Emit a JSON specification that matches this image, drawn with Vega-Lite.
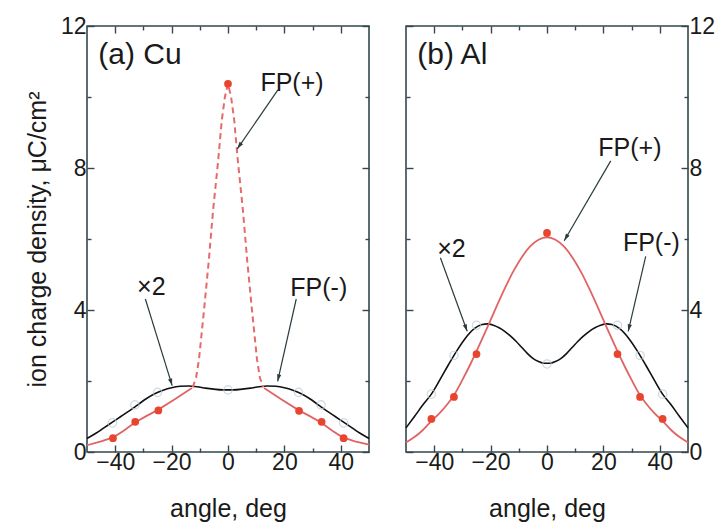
{
  "$schema": "https://vega.github.io/schema/vega-lite/v6.json",
  "background": "white",
  "padding": {"left": 24, "top": 14, "right": 0, "bottom": 0},
  "spacing": 27,
  "config": {
    "view": {"stroke": "#33474d", "strokeWidth": 1.6},
    "axis": {"grid": false, "domain": false, "tickColor": "#33474d", "tickWidth": 1.4, "labelFont": "Liberation Sans", "labelFontSize": 23, "labelColor": "#1a1a1a", "titleFont": "Liberation Sans", "titleFontSize": 25, "titleFontWeight": "normal", "titleColor": "#1a1a1a"},
    "text": {"font": "Liberation Sans", "color": "#1a1a1a"}
  },
  "datasets": {
    "cu_black": [
      {"x": -50, "y": 0.38}, {"x": -47, "y": 0.52}, {"x": -44, "y": 0.68}, {"x": -41, "y": 0.84}, {"x": -38, "y": 1.0}, {"x": -35, "y": 1.16}, {"x": -32, "y": 1.33}, {"x": -29, "y": 1.5}, {"x": -26, "y": 1.64}, {"x": -23, "y": 1.74}, {"x": -20, "y": 1.81}, {"x": -17, "y": 1.85}, {"x": -14, "y": 1.86}, {"x": -11, "y": 1.84}, {"x": -8, "y": 1.8}, {"x": -5, "y": 1.77}, {"x": -2, "y": 1.75}, {"x": 0, "y": 1.75},
      {"x": 2, "y": 1.75}, {"x": 5, "y": 1.77}, {"x": 8, "y": 1.8}, {"x": 11, "y": 1.84}, {"x": 14, "y": 1.86}, {"x": 17, "y": 1.85}, {"x": 20, "y": 1.81}, {"x": 23, "y": 1.74}, {"x": 26, "y": 1.64}, {"x": 29, "y": 1.5}, {"x": 32, "y": 1.33}, {"x": 35, "y": 1.16}, {"x": 38, "y": 1.0}, {"x": 41, "y": 0.84}, {"x": 44, "y": 0.68}, {"x": 47, "y": 0.52}, {"x": 50, "y": 0.38}
    ],
    "cu_red": [
      {"seg": "L", "x": -50, "y": 0.19}, {"seg": "L", "x": -45, "y": 0.3}, {"seg": "L", "x": -40.5, "y": 0.42}, {"seg": "L", "x": -37, "y": 0.6}, {"seg": "L", "x": -33, "y": 0.83}, {"seg": "L", "x": -29, "y": 1.01}, {"seg": "L", "x": -25, "y": 1.18}, {"seg": "L", "x": -19, "y": 1.48}, {"seg": "L", "x": -12.8, "y": 1.8},
      {"seg": "R", "x": 12.8, "y": 1.8}, {"seg": "R", "x": 19, "y": 1.48}, {"seg": "R", "x": 25, "y": 1.18}, {"seg": "R", "x": 29, "y": 1.01}, {"seg": "R", "x": 33, "y": 0.83}, {"seg": "R", "x": 37, "y": 0.6}, {"seg": "R", "x": 40.5, "y": 0.42}, {"seg": "R", "x": 45, "y": 0.3}, {"seg": "R", "x": 50, "y": 0.21}
    ],
    "cu_dash": [
      {"x": -12.5, "y": 1.82}, {"x": -11.3, "y": 2.1}, {"x": -10.3, "y": 2.6}, {"x": -8.5, "y": 4.0}, {"x": -6.8, "y": 5.4}, {"x": -5.3, "y": 6.8}, {"x": -3.5, "y": 8.2}, {"x": -2.2, "y": 9.35}, {"x": -1.1, "y": 10.0}, {"x": 0, "y": 10.37},
      {"x": 1.1, "y": 10.0}, {"x": 2.2, "y": 9.35}, {"x": 3.5, "y": 8.2}, {"x": 5.3, "y": 6.8}, {"x": 6.8, "y": 5.4}, {"x": 8.5, "y": 4.0}, {"x": 10.3, "y": 2.6}, {"x": 11.3, "y": 2.1}, {"x": 12.5, "y": 1.82}
    ],
    "cu_circles": [
      {"x": -41, "y": 0.82}, {"x": -33, "y": 1.33}, {"x": -25, "y": 1.68}, {"x": 0, "y": 1.75}, {"x": 25, "y": 1.68}, {"x": 33, "y": 1.33}, {"x": 41, "y": 0.82}
    ],
    "cu_dots": [
      {"x": -40.8, "y": 0.39}, {"x": -32.9, "y": 0.85}, {"x": -24.7, "y": 1.17}, {"x": 0, "y": 10.37}, {"x": 25.2, "y": 1.16}, {"x": 33.2, "y": 0.85}, {"x": 41, "y": 0.39}
    ],
    "cu_arrows": [
      {"xs": 17.7, "ys": 10.2, "xe": 3.3, "ye": 8.54},
      {"xs": -29.3, "ys": 4.31, "xe": -19.8, "ye": 1.87},
      {"xs": 24.2, "ys": 4.31, "xe": 17.6, "ye": 1.99}
    ],
    "cu_labels": [
      {"x": 22.7, "y": 10.4, "t": "FP(+)"}, {"x": -27.2, "y": 4.65, "t": "×2"}, {"x": 32.2, "y": 4.62, "t": "FP(-)"}
    ],
    "cu_panel": [{"x": -46, "y": 11.17, "t": "(a) Cu"}],
    "al_black": [
      {"x": -50, "y": 0.68}, {"x": -47, "y": 1.0}, {"x": -44, "y": 1.33}, {"x": -41, "y": 1.63}, {"x": -38, "y": 2.03}, {"x": -35, "y": 2.45}, {"x": -32, "y": 2.85}, {"x": -29, "y": 3.2}, {"x": -26, "y": 3.46}, {"x": -23, "y": 3.59}, {"x": -21, "y": 3.61}, {"x": -19, "y": 3.57}, {"x": -17, "y": 3.5}, {"x": -15, "y": 3.4}, {"x": -13, "y": 3.27}, {"x": -11, "y": 3.12}, {"x": -9, "y": 2.95}, {"x": -7, "y": 2.78}, {"x": -5, "y": 2.64}, {"x": -3, "y": 2.55}, {"x": -1, "y": 2.5}, {"x": 0, "y": 2.5},
      {"x": 1, "y": 2.5}, {"x": 3, "y": 2.55}, {"x": 5, "y": 2.64}, {"x": 7, "y": 2.78}, {"x": 9, "y": 2.95}, {"x": 11, "y": 3.12}, {"x": 13, "y": 3.27}, {"x": 15, "y": 3.4}, {"x": 17, "y": 3.5}, {"x": 19, "y": 3.57}, {"x": 21, "y": 3.61}, {"x": 23, "y": 3.59}, {"x": 26, "y": 3.46}, {"x": 29, "y": 3.2}, {"x": 32, "y": 2.85}, {"x": 35, "y": 2.45}, {"x": 38, "y": 2.03}, {"x": 41, "y": 1.63}, {"x": 44, "y": 1.33}, {"x": 47, "y": 1.0}, {"x": 50, "y": 0.68}
    ],
    "al_red": [
      {"x": -50, "y": 0.27}, {"x": -47, "y": 0.42}, {"x": -44, "y": 0.62}, {"x": -41, "y": 0.87}, {"x": -38, "y": 1.1}, {"x": -35, "y": 1.38}, {"x": -33, "y": 1.6}, {"x": -30, "y": 2.03}, {"x": -27, "y": 2.5}, {"x": -24, "y": 3.01}, {"x": -21, "y": 3.54}, {"x": -18, "y": 4.08}, {"x": -15, "y": 4.6}, {"x": -12, "y": 5.08}, {"x": -9, "y": 5.48}, {"x": -6, "y": 5.79}, {"x": -3, "y": 5.98}, {"x": 0, "y": 6.05},
      {"x": 3, "y": 5.98}, {"x": 6, "y": 5.79}, {"x": 9, "y": 5.48}, {"x": 12, "y": 5.08}, {"x": 15, "y": 4.6}, {"x": 18, "y": 4.08}, {"x": 21, "y": 3.54}, {"x": 24, "y": 3.01}, {"x": 27, "y": 2.5}, {"x": 30, "y": 2.03}, {"x": 33, "y": 1.6}, {"x": 35, "y": 1.38}, {"x": 38, "y": 1.1}, {"x": 41, "y": 0.87}, {"x": 44, "y": 0.62}, {"x": 47, "y": 0.42}, {"x": 50, "y": 0.27}
    ],
    "al_circles": [
      {"x": -41, "y": 1.63}, {"x": -33, "y": 2.72}, {"x": -25, "y": 3.57}, {"x": 0, "y": 2.48}, {"x": 25, "y": 3.57}, {"x": 33, "y": 2.72}, {"x": 41, "y": 1.63}
    ],
    "al_dots": [
      {"x": -41, "y": 0.93}, {"x": -33, "y": 1.55}, {"x": -25, "y": 2.76}, {"x": 0, "y": 6.17}, {"x": 25, "y": 2.76}, {"x": 33, "y": 1.55}, {"x": 41, "y": 0.93}
    ],
    "al_arrows": [
      {"xs": 22.6, "ys": 8.2, "xe": 6.1, "ye": 5.95},
      {"xs": -37.8, "ys": 5.47, "xe": -28.3, "ye": 3.4},
      {"xs": 35, "ys": 5.51, "xe": 28.8, "ye": 3.4}
    ],
    "al_labels": [
      {"x": 29.4, "y": 8.56, "t": "FP(+)"}, {"x": -33.9, "y": 5.72, "t": "×2"}, {"x": 37, "y": 5.89, "t": "FP(-)"}
    ],
    "al_panel": [{"x": -46, "y": 11.17, "t": "(b) Al"}]
  },
  "hconcat": [
    {
      "width": 282,
      "height": 426,
      "resolve": {"axis": {"x": "independent", "y": "independent"}},
      "layer": [
        {
          "data": {"name": "cu_black"},
          "mark": {"type": "line", "color": "#111111", "strokeWidth": 1.6, "interpolate": "monotone"},
          "encoding": {
            "x": {"field": "x", "type": "quantitative", "scale": {"domain": [-50, 50], "nice": false, "zero": false}, "axis": {"orient": "bottom", "values": [-40, -20, 0, 20, 40], "tickSize": -7, "labelPadding": 6, "title": "angle, deg", "titlePadding": 22}},
            "y": {"field": "y", "type": "quantitative", "scale": {"domain": [0, 12], "nice": false}, "axis": {"orient": "left", "values": [0, 4, 8, 12], "tickSize": -7, "labelPadding": 8, "title": "ion charge density, μC/cm²", "titlePadding": 10}}
          }
        },
        {
          "data": {"name": "cu_red"},
          "mark": {"type": "line", "color": "#e06464", "strokeWidth": 1.8},
          "encoding": {
            "x": {"field": "x", "type": "quantitative", "scale": {"domain": [-50, 50], "nice": false, "zero": false}, "axis": {"orient": "top", "values": [-40, -20, 0, 20, 40], "tickSize": -7, "labels": false, "title": null}},
            "y": {"field": "y", "type": "quantitative", "scale": {"domain": [0, 12], "nice": false}, "axis": {"orient": "right", "values": [0, 4, 8, 12], "tickSize": -7, "labels": false, "title": null}},
            "detail": {"field": "seg"}
          }
        },
        {
          "data": {"name": "cu_dash"},
          "mark": {"type": "line", "color": "#e66a6a", "strokeWidth": 2, "strokeDash": [6, 4]},
          "encoding": {
            "x": {"field": "x", "type": "quantitative", "scale": {"domain": [-50, 50], "nice": false, "zero": false}, "axis": {"orient": "bottom", "values": [-30, -10, 10, 30], "tickSize": -4, "labels": false, "title": null}},
            "y": {"field": "y", "type": "quantitative", "scale": {"domain": [0, 12], "nice": false}, "axis": {"orient": "left", "values": [2, 6, 10], "tickSize": -4, "labels": false, "title": null}}
          }
        },
        {
          "data": {"name": "cu_circles"},
          "mark": {"type": "point", "shape": "circle", "filled": false, "color": "#bccbd6", "strokeWidth": 1.2, "size": 70},
          "encoding": {
            "x": {"field": "x", "type": "quantitative", "scale": {"domain": [-50, 50], "nice": false, "zero": false}, "axis": {"orient": "top", "values": [-30, -10, 10, 30], "tickSize": -4, "labels": false, "title": null}},
            "y": {"field": "y", "type": "quantitative", "scale": {"domain": [0, 12], "nice": false}, "axis": {"orient": "right", "values": [2, 6, 10], "tickSize": -4, "labels": false, "title": null}}
          }
        },
        {
          "data": {"name": "cu_dots"},
          "mark": {"type": "point", "shape": "circle", "filled": true, "color": "#e8452f", "opacity": 1, "size": 60},
          "encoding": {
            "x": {"field": "x", "type": "quantitative", "axis": null},
            "y": {"field": "y", "type": "quantitative", "axis": null}
          }
        },
        {
          "data": {"name": "cu_arrows"},
          "mark": {"type": "rule", "color": "#2b3b3f", "strokeWidth": 1.2},
          "encoding": {
            "x": {"field": "xs", "type": "quantitative", "axis": null},
            "y": {"field": "ys", "type": "quantitative", "axis": null},
            "x2": {"field": "xe"},
            "y2": {"field": "ye"}
          }
        },
        {
          "data": {"name": "cu_arrows"},
          "transform": [{"calculate": "atan2((datum.xe - datum.xs) * 2.82, (datum.ye - datum.ys) * 35.5) * 180 / PI", "as": "ang"}],
          "mark": {"type": "point", "shape": "M0,0L-0.3,1L0.3,1Z", "filled": true, "color": "#2b3b3f", "opacity": 1, "size": 200},
          "encoding": {
            "x": {"field": "xe", "type": "quantitative", "axis": null},
            "y": {"field": "ye", "type": "quantitative", "axis": null},
            "angle": {"field": "ang", "type": "quantitative", "scale": null}
          }
        },
        {
          "data": {"name": "cu_labels"},
          "mark": {"type": "text", "fontSize": 25, "align": "center", "baseline": "middle"},
          "encoding": {
            "x": {"field": "x", "type": "quantitative", "axis": null},
            "y": {"field": "y", "type": "quantitative", "axis": null},
            "text": {"field": "t"}
          }
        },
        {
          "data": {"name": "cu_panel"},
          "mark": {"type": "text", "fontSize": 30, "align": "left", "baseline": "middle"},
          "encoding": {
            "x": {"field": "x", "type": "quantitative", "axis": null},
            "y": {"field": "y", "type": "quantitative", "axis": null},
            "text": {"field": "t"}
          }
        }
      ]
    },
    {
      "width": 282,
      "height": 426,
      "resolve": {"axis": {"x": "independent", "y": "independent"}},
      "layer": [
        {
          "data": {"name": "al_black"},
          "mark": {"type": "line", "color": "#111111", "strokeWidth": 1.6, "interpolate": "monotone"},
          "encoding": {
            "x": {"field": "x", "type": "quantitative", "scale": {"domain": [-50, 50], "nice": false, "zero": false}, "axis": {"orient": "bottom", "values": [-40, -20, 0, 20, 40], "tickSize": -7, "labelPadding": 6, "title": "angle, deg", "titlePadding": 22}},
            "y": {"field": "y", "type": "quantitative", "scale": {"domain": [0, 12], "nice": false}, "axis": {"orient": "right", "values": [0, 4, 8, 12], "tickSize": -7, "labelPadding": 8, "title": null}}
          }
        },
        {
          "data": {"name": "al_red"},
          "mark": {"type": "line", "color": "#e06464", "strokeWidth": 1.8, "interpolate": "monotone"},
          "encoding": {
            "x": {"field": "x", "type": "quantitative", "scale": {"domain": [-50, 50], "nice": false, "zero": false}, "axis": {"orient": "top", "values": [-40, -20, 0, 20, 40], "tickSize": -7, "labels": false, "title": null}},
            "y": {"field": "y", "type": "quantitative", "scale": {"domain": [0, 12], "nice": false}, "axis": {"orient": "left", "values": [0, 4, 8, 12], "tickSize": -7, "labels": false, "title": null}}
          }
        },
        {
          "data": {"name": "al_circles"},
          "mark": {"type": "point", "shape": "circle", "filled": false, "color": "#bccbd6", "strokeWidth": 1.2, "size": 70},
          "encoding": {
            "x": {"field": "x", "type": "quantitative", "scale": {"domain": [-50, 50], "nice": false, "zero": false}, "axis": {"orient": "bottom", "values": [-30, -10, 10, 30], "tickSize": -4, "labels": false, "title": null}},
            "y": {"field": "y", "type": "quantitative", "scale": {"domain": [0, 12], "nice": false}, "axis": {"orient": "left", "values": [2, 6, 10], "tickSize": -4, "labels": false, "title": null}}
          }
        },
        {
          "data": {"name": "al_dots"},
          "mark": {"type": "point", "shape": "circle", "filled": true, "color": "#e8452f", "opacity": 1, "size": 60},
          "encoding": {
            "x": {"field": "x", "type": "quantitative", "scale": {"domain": [-50, 50], "nice": false, "zero": false}, "axis": {"orient": "top", "values": [-30, -10, 10, 30], "tickSize": -4, "labels": false, "title": null}},
            "y": {"field": "y", "type": "quantitative", "scale": {"domain": [0, 12], "nice": false}, "axis": {"orient": "right", "values": [2, 6, 10], "tickSize": -4, "labels": false, "title": null}}
          }
        },
        {
          "data": {"name": "al_arrows"},
          "mark": {"type": "rule", "color": "#2b3b3f", "strokeWidth": 1.2},
          "encoding": {
            "x": {"field": "xs", "type": "quantitative", "axis": null},
            "y": {"field": "ys", "type": "quantitative", "axis": null},
            "x2": {"field": "xe"},
            "y2": {"field": "ye"}
          }
        },
        {
          "data": {"name": "al_arrows"},
          "transform": [{"calculate": "atan2((datum.xe - datum.xs) * 2.82, (datum.ye - datum.ys) * 35.5) * 180 / PI", "as": "ang"}],
          "mark": {"type": "point", "shape": "M0,0L-0.3,1L0.3,1Z", "filled": true, "color": "#2b3b3f", "opacity": 1, "size": 200},
          "encoding": {
            "x": {"field": "xe", "type": "quantitative", "axis": null},
            "y": {"field": "ye", "type": "quantitative", "axis": null},
            "angle": {"field": "ang", "type": "quantitative", "scale": null}
          }
        },
        {
          "data": {"name": "al_labels"},
          "mark": {"type": "text", "fontSize": 25, "align": "center", "baseline": "middle"},
          "encoding": {
            "x": {"field": "x", "type": "quantitative", "axis": null},
            "y": {"field": "y", "type": "quantitative", "axis": null},
            "text": {"field": "t"}
          }
        },
        {
          "data": {"name": "al_panel"},
          "mark": {"type": "text", "fontSize": 30, "align": "left", "baseline": "middle"},
          "encoding": {
            "x": {"field": "x", "type": "quantitative", "axis": null},
            "y": {"field": "y", "type": "quantitative", "axis": null},
            "text": {"field": "t"}
          }
        }
      ]
    }
  ]
}
